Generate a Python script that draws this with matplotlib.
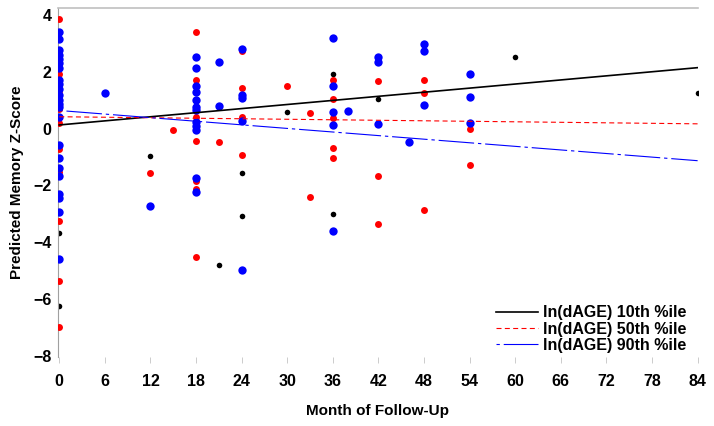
import matplotlib
matplotlib.use("Agg")
import matplotlib.pyplot as plt

plt.rcParams['font.family'] = ['Liberation Sans', 'DejaVu Sans']
plt.rcParams['font.weight'] = 'bold'

# observed points, by dAGE group (month, predicted z-score)
p10_month = [0, 0, 0, 0, 12, 21, 24, 24, 30, 36, 36, 42, 60, 84]
p10_score = [1.15, 0.72, -3.67, -6.25, -0.97, -4.81, -1.55, -3.08, 0.59, 1.93, -3.01, 1.05, 2.54, 1.27]

p50_month = [0, 0, 0, 0, 0, 0, 0, 0, 0, 0,
             12, 15,
             18, 18, 18, 18, 18, 18, 18,
             21,
             24, 24, 24, 24,
             30, 33, 33,
             36, 36, 36, 36, 36,
             42, 42, 42,
             48, 48, 48,
             54, 54]
p50_score = [3.86, 1.92, 1.33, 0.71, 0.19, -0.73, -1.53, -3.26, -5.36, -7.0,
             -1.55, -0.04,
             3.39, 1.71, 0.41, -0.45, -1.86, -2.14, -4.53,
             -0.47,
             2.72, 1.45, 0.41, -0.92,
             1.49, 0.56, -2.42,
             1.71, 1.03, 0.37, -0.67, -1.05,
             1.68, -1.68, -3.35,
             1.71, 1.26, -2.86,
             -0.01, -1.27]

p90_month = [0] * 23 + [6, 12] + [18] * 12 + [21, 21] + [24] * 5 + [36] * 5 + [38] + [42] * 3 + [46] + [48] * 3 + [54] * 3
p90_score = [3.42, 3.16, 2.76, 2.61, 2.47, 2.33, 2.15, 1.7, 1.56, 1.39, 1.19, 1.0, 0.86, 0.76, 0.41,
             -0.57, -1.04, -1.38, -1.67, -2.32, -2.45, -2.93, -4.61,
             1.27, -2.71,
             2.53, 2.15, 1.5, 1.29, 1.0, 0.76, 0.64, 0.23, 0.09, -0.05, -1.73, -2.22,
             2.34, 0.79,
             2.82, 1.18, 1.08, 0.28, -4.99,
             3.2, 1.52, 0.59, 0.14, -3.6,
             0.62,
             2.54, 2.34, 0.15,
             -0.47,
             2.98, 2.75, 0.85,
             1.93, 1.1, 0.2]

# fitted trajectories
fit_month = [0, 84]
fit_p10 = [0.13, 2.15]
fit_p50 = [0.42, 0.17]
fit_p90 = [0.64, -1.13]

xticks = list(range(0, 85, 6))
yticks = list(range(-8, 5, 2))

fig = plt.figure(figsize=(7.14, 4.26), dpi=100)
ax = fig.add_axes([0.0812, 0.162, 0.8964, 0.819])

ax.scatter(p10_month, p10_score, s=16, color='black', linewidths=0, zorder=2)
ax.scatter(p50_month, p50_score, s=25, color='#ff0000', linewidths=0, zorder=3)
ax.scatter(p90_month, p90_score, s=36, color='#0000ff', linewidths=0, zorder=4)

ax.plot(fit_month, fit_p10, color='black', lw=1.2, label='ln(dAGE) 10th %ile', zorder=5)
ax.plot(fit_month, fit_p50, color='#ff0000', lw=0.8, dashes=(4.5, 3), label='ln(dAGE) 50th %ile', zorder=5)
ax.plot(fit_month, fit_p90, color='#0000ff', lw=0.8, dashes=(3, 3.5, 32, 3.5), label='ln(dAGE) 90th %ile', zorder=5)

ax.set_xlim(-0.17, 84.05)
ax.set_ylim(-8.05, 4.25)
ax.set_xticks(xticks)
ax.set_yticks(yticks)

for side in ['right', 'bottom']:
    ax.spines[side].set_visible(False)
ax.spines['top'].set_color('#c0c0c0')
ax.spines['top'].set_linewidth(1.2)
ax.spines['left'].set_color('#a0a0a0')
ax.spines['left'].set_linewidth(0.8)

ax.tick_params(axis='x', length=4, width=0.5, color='#b8b8b8', pad=8, labelsize=11.5)
ax.tick_params(axis='y', length=0, pad=4.5, labelsize=11.5)
for lab in ax.get_xticklabels() + ax.get_yticklabels():
    lab.set_fontweight('bold')

ax.set_xlabel('Month of Follow-Up', fontsize=11, fontweight='bold', labelpad=11)
ax.set_ylabel('Predicted Memory Z-Score', fontsize=11, fontweight='bold', labelpad=7)

ax.legend(loc='lower right', bbox_to_anchor=(1.0, -0.02), frameon=False,
          handlelength=2.6, handletextpad=0.35, labelspacing=0.08, borderaxespad=0.3,
          prop={'weight': 'bold', 'size': 11.5})

plt.savefig('out.png', dpi=100)
